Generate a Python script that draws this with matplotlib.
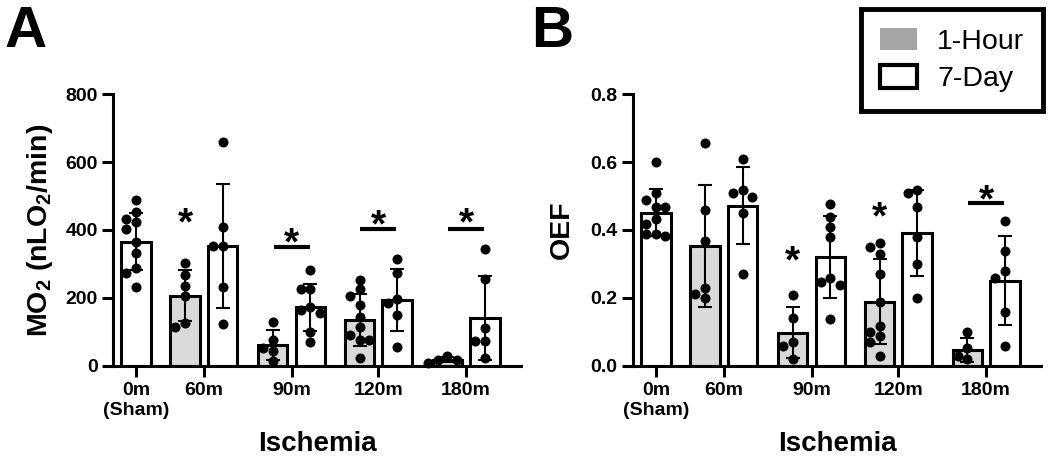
import numpy as np
import matplotlib
matplotlib.use('Agg')
import matplotlib.pyplot as plt
from matplotlib.patches import Patch
from matplotlib.transforms import offset_copy

plt.rcParams['font.family'] = ['Liberation Sans', 'DejaVu Sans']
plt.rcParams['font.weight'] = 'bold'
plt.rcParams['mathtext.fontset'] = 'custom'
plt.rcParams['mathtext.rm'] = 'Liberation Sans:bold'
plt.rcParams['mathtext.bf'] = 'Liberation Sans:bold'

# --- data ---
groups = ['0m\n(Sham)', '60m', '90m', '120m', '180m']

# panel A: MO2 (nLO2/min)
mo2_sham = [488, 452, 432, 424, 402, 365, 333, 287, 274, 233]
mo2_sham_mean = 365
mo2_sham_sd = 84
mo2_1h = [[302, 267, 235, 205, 125, 115],
          [128, 76, 53, 44, 14],
          [253, 226, 205, 179, 143, 115, 90, 76, 76, 22],
          [28, 17, 17, 9]]
mo2_1h_mean = [206, 61, 135, 18]
mo2_1h_sd = [75, 43, 77, 7]
mo2_7d = [[660, 410, 354, 352, 231, 122],
          [282, 226, 226, 174, 164, 154, 98, 71],
          [314, 274, 197, 186, 149, 56],
          [343, 255, 110, 73, 73, 22]]
mo2_7d_mean = [353, 172, 194, 141]
mo2_7d_sd = [182, 70, 91, 124]
# significance marks per ischemia group: kind, star height, bar height
mo2_sig_kind = ['1h', 'pair', 'pair', 'pair']
mo2_star_y = [450, 391, 444, 450]
mo2_line_y = [None, 351, 403, 403]

# panel B: OEF
oef_sham = [0.599, 0.508, 0.488, 0.469, 0.469, 0.431, 0.418, 0.388, 0.388, 0.382]
oef_sham_mean = 0.451
oef_sham_sd = 0.069
oef_1h = [[0.657, 0.459, 0.368, 0.230, 0.210, 0.199],
          [0.208, 0.140, 0.071, 0.059, 0.019],
          [0.361, 0.349, 0.329, 0.269, 0.189, 0.118, 0.098, 0.088, 0.069, 0.029],
          [0.100, 0.051, 0.029, 0.019]]
oef_1h_mean = [0.353, 0.097, 0.189, 0.046]
oef_1h_sd = [0.181, 0.075, 0.126, 0.035]
oef_7d = [[0.608, 0.518, 0.508, 0.498, 0.449, 0.269],
          [0.477, 0.439, 0.410, 0.380, 0.258, 0.248, 0.238, 0.138],
          [0.518, 0.510, 0.469, 0.380, 0.299, 0.199],
          [0.427, 0.339, 0.279, 0.258, 0.157, 0.059]]
oef_7d_mean = [0.472, 0.321, 0.392, 0.251]
oef_7d_sd = [0.114, 0.120, 0.127, 0.130]
oef_sig_kind = [None, '1h', '1h', 'pair']
oef_star_y = [None, 0.339, 0.469, 0.518]
oef_line_y = [None, None, None, 0.479]

# --- layout ---
tick_pos = [0, 0.773, 1.773, 2.761, 3.761]
half_gap = 0.214
bar_w = 0.335
grey = '#d9d9d9'
W, H = 1050, 471

fig = plt.figure(figsize=(W / 100, H / 100), dpi=100)
fig.patch.set_facecolor('white')


def swarm_x(ax, xc, vals, d_px=8.6, step_px=9.5):
    # column beeswarm in pixel space
    py = ax.transData.transform(np.column_stack([np.zeros(len(vals)), vals]))[:, 1]
    px_unit = ax.transData.transform((1, 0))[0] - ax.transData.transform((0, 0))[0]
    cols = np.zeros(len(vals))
    placed = []
    for i in np.argsort(-np.asarray(vals)):
        for k in [0, -1, 1, -2, 2, -3, 3]:
            if all(c != k or abs(p - py[i]) >= d_px for c, p in placed):
                cols[i] = k
                placed.append((k, py[i]))
                break
    return xc + cols * step_px / px_unit


def panel(ax, sham, sham_m, sham_s, g1, g1_m, g1_s, g7, g7_m, g7_s,
          kinds, star_y, line_y, ymax, yticks, ylabel):
    ax.set_xlim(-0.261, 4.386)
    ax.set_ylim(0, ymax)
    xs_1h = [p - half_gap for p in tick_pos[1:]]
    xs_7d = [p + half_gap for p in tick_pos[1:]]
    ax.bar([tick_pos[0]], [sham_m], width=bar_w, color='white', edgecolor='black', linewidth=2.2, zorder=2)
    ax.bar(xs_1h, g1_m, width=bar_w, color=grey, edgecolor='black', linewidth=2.2, zorder=2)
    ax.bar(xs_7d, g7_m, width=bar_w, color='white', edgecolor='black', linewidth=2.2, zorder=2)
    ekw = dict(fmt='none', ecolor='black', elinewidth=1.5, capsize=5, capthick=1.5, zorder=3)
    ax.errorbar([tick_pos[0]], [sham_m], yerr=[sham_s], **ekw)
    ax.errorbar(xs_1h, g1_m, yerr=g1_s, **ekw)
    ax.errorbar(xs_7d, g7_m, yerr=g7_s, **ekw)
    sets = [(tick_pos[0], sham)] + list(zip(xs_1h, g1)) + list(zip(xs_7d, g7))
    for xc, vals in sets:
        ax.plot(swarm_x(ax, xc, vals), vals, 'o', color='black', ms=6.2, zorder=4, clip_on=False)
    fs = 28
    star_tr = offset_copy(ax.transData, fig=fig, y=-0.56 * fs, units='points')
    for i, k in enumerate(kinds):
        if k is None:
            continue
        xc = xs_1h[i] if k == '1h' else tick_pos[i + 1]
        if k == 'pair':
            ax.plot([tick_pos[i + 1] - 0.205, tick_pos[i + 1] + 0.205], [line_y[i]] * 2,
                    color='black', lw=3, solid_capstyle='butt', zorder=3)
        ax.text(xc, star_y[i], '*', fontsize=fs, ha='center', va='baseline',
                transform=star_tr, fontweight='bold')
    for s in ['top', 'right']:
        ax.spines[s].set_visible(False)
    for s in ['left', 'bottom']:
        ax.spines[s].set_linewidth(2.2)
    ax.set_xticks(tick_pos, groups)
    ax.set_yticks(yticks)
    ax.tick_params(axis='both', length=8, width=2.2, labelsize=14, pad=3)
    ax.tick_params(axis='x', pad=4)
    ax.set_ylabel(ylabel, fontsize=20.5, fontweight='bold')
    ax.yaxis.set_label_coords(-0.142, 0.5)
    ax.set_xlabel('Ischemia', fontsize=20, fontweight='bold')
    ax.xaxis.set_label_coords(0.5, -0.24)


ax_a = fig.add_axes([113 / W, (H - 365.7) / H, 408 / W, 271.4 / H])
panel(ax_a, mo2_sham, mo2_sham_mean, mo2_sham_sd, mo2_1h, mo2_1h_mean, mo2_1h_sd,
      mo2_7d, mo2_7d_mean, mo2_7d_sd, mo2_sig_kind, mo2_star_y, mo2_line_y,
      800, [0, 200, 400, 600, 800], r'MO$_\mathbf{2}$ (nLO$_\mathbf{2}$/min)')

ax_b = fig.add_axes([633 / W, (H - 365.7) / H, 408 / W, 271.4 / H])
panel(ax_b, oef_sham, oef_sham_mean, oef_sham_sd, oef_1h, oef_1h_mean, oef_1h_sd,
      oef_7d, oef_7d_mean, oef_7d_sd, oef_sig_kind, oef_star_y, oef_line_y,
      0.8, [0.0, 0.2, 0.4, 0.6, 0.8], 'OEF')
ax_b.set_yticklabels(['0.0', '0.2', '0.4', '0.6', '0.8'])

fig.text(5 / W, 1 - 47 / H, 'A', fontsize=42, fontweight='bold', ha='left', va='baseline')
fig.text(531 / W, 1 - 47 / H, 'B', fontsize=42, fontweight='bold', ha='left', va='baseline')

handles = [Patch(facecolor='#a6a6a6', edgecolor='none'),
           Patch(facecolor='white', edgecolor='black', linewidth=3)]
leg = fig.legend(handles, ['1-Hour', '7-Day'], loc='upper right',
                 bbox_to_anchor=(1043 / W, 1 - 9 / H), borderaxespad=0,
                 frameon=True, fancybox=False, edgecolor='black', framealpha=1,
                 prop=dict(size=20.5, weight='normal'), handlelength=1.3,
                 handleheight=0.85, handletextpad=0.7, labelspacing=0.36, borderpad=0.66)
leg.get_frame().set_linewidth(3.5)

fig.savefig('out.png', dpi=100, facecolor='white')
